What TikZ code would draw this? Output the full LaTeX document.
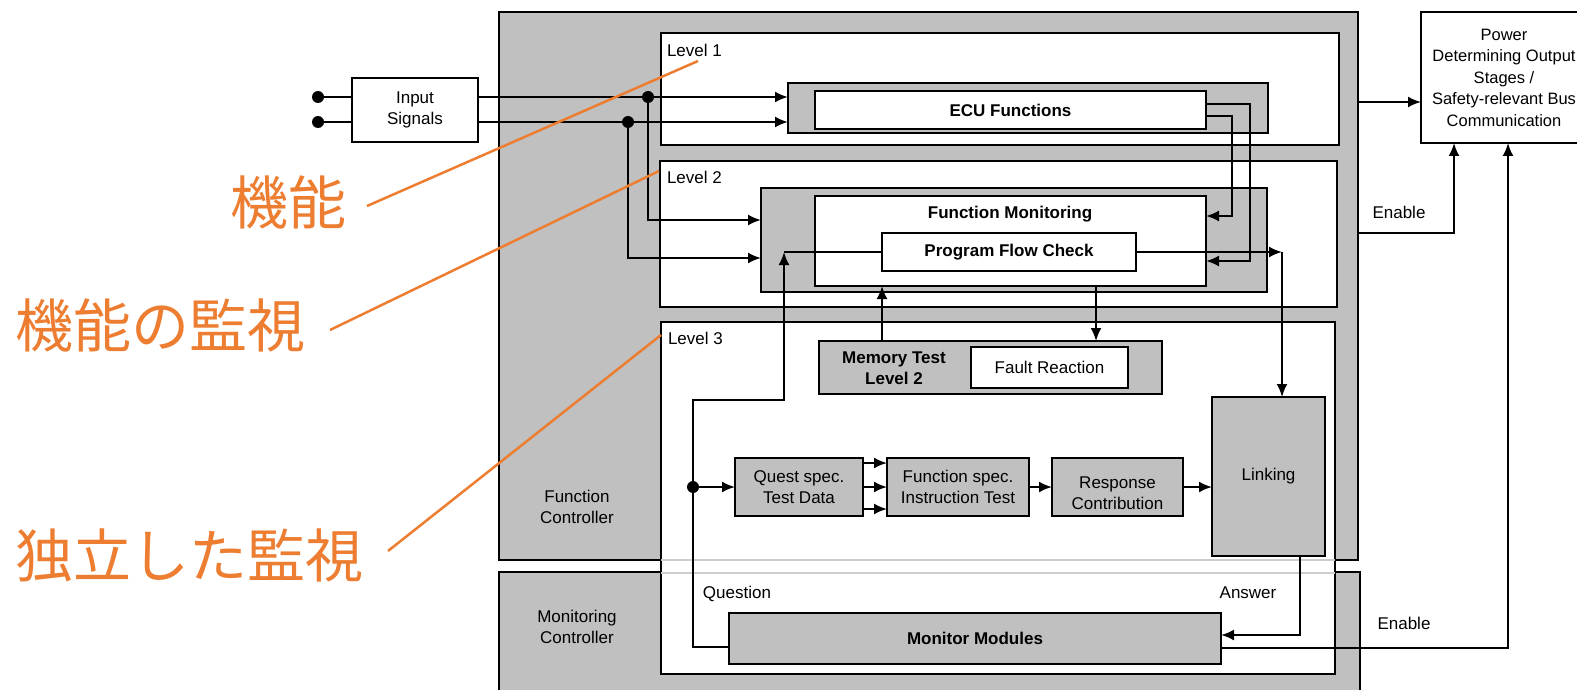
\documentclass[tikz,border=0pt]{standalone}
\usepackage{fontspec}
\setmainfont{Liberation Sans}
\newfontfamily\jpfont{Noto Sans CJK JP}
\usetikzlibrary{arrows.meta}
\definecolor{boxgray}{RGB}{192,192,192}
\definecolor{jorange}{RGB}{237,125,49}
\definecolor{faintline}{RGB}{205,205,205}
\begin{document}
\begin{tikzpicture}[x=1pt,y=-1pt,
  every node/.style={font=\fontsize{17}{21}\selectfont, align=center, inner sep=0pt, outer sep=0pt},
  boldtext/.style={font=\fontsize{17}{21}\selectfont\bfseries},
  gbox/.style={draw=black, fill=boxgray, line width=2pt},
  wbox/.style={draw=black, fill=white, line width=2pt},
  conn/.style={line width=2pt},
  arr/.style={conn, -{Latex[length=13pt,width=11pt]}},
  dotc/.style={circle, fill=black, minimum size=12pt},
  jp/.style={font=\jpfont\fontsize{58}{70}\selectfont, text=jorange},
  callout/.style={draw=jorange, line width=2.5pt}
]
\useasboundingbox (0,0) rectangle (1577,690);

% controllers and levels
\node[gbox, minimum width=859pt, minimum height=548pt] (fc) at (928.5,286) {};
\node[gbox, minimum width=861pt, minimum height=160pt] (mc) at (929.5,652) {};
\node[wbox, minimum width=678pt, minimum height=112pt] (lv1) at (1000,89) {};
\node[wbox, minimum width=677pt, minimum height=146pt] (lv2) at (998.5,234) {};
\node[wbox, minimum width=674pt, minimum height=352pt] (lv3) at (998,498) {};
\draw[faintline, line width=1.5pt] (lv3.west |- 0,560) -- (lv3.east |- 0,560);
\draw[faintline, line width=1.5pt] (lv3.west |- 0,573) -- (lv3.east |- 0,573);

\node[anchor=west] (l1) at (667,50) {Level 1};
\node[anchor=west] (l2) at (667,177) {Level 2};
\node[anchor=west] (l3) at (668,338) {Level 3};
\node (fclab) at (577,507) {Function\\Controller};
\node (mclab) at (577,627) {Monitoring\\Controller};

% input
\node[wbox, minimum width=126pt, minimum height=64pt] (inp) at (415,110) {Input\\Signals};
\node[dotc] (d1) at (318,97) {};
\node[dotc] (d2) at (318,122) {};
\draw[conn] (d1.center) -- (inp.west |- d1.center);
\draw[conn] (d2.center) -- (inp.west |- d2.center);

% level 1
\node[gbox, minimum width=480pt, minimum height=50pt] (ecuo) at (1028,108) {};
\node[wbox, boldtext, minimum width=391pt, minimum height=38pt] (ecu) at (1010.5,110) {ECU Functions};

% level 2
\node[gbox, minimum width=506pt, minimum height=104pt] (fmo) at (1014,240) {};
\node[wbox, minimum width=391pt, minimum height=90pt] (fm) at (1010.5,241) {};
\node[boldtext] (fmlab) at (1010,214) {Function Monitoring};
\node[wbox, boldtext, minimum width=254pt, minimum height=38pt] (pfc) at (1009,252) {Program Flow Check};

% level 3
\node[gbox, minimum width=343pt, minimum height=53pt] (mem) at (990.5,367.5) {};
\node[boldtext] (memlab) at (894,368) {Memory Test\\Level 2};
\node[wbox, minimum width=157pt, minimum height=41pt] (fr) at (1049.5,367.5) {Fault Reaction};
\node[gbox, minimum width=128pt, minimum height=58pt] (qst) at (799,487) {Quest spec.\\Test Data};
\node[gbox, minimum width=142pt, minimum height=58pt] (fsp) at (958,487) {Function spec.\\Instruction Test};
\node[gbox, minimum width=131pt, minimum height=58pt] (rsp) at (1117.5,487) {};
\node (rsplab) at (1117.5,493) {Response\\Contribution};
\node[gbox, minimum width=113pt, minimum height=159pt] (lnk) at (1268.5,476.5) {Linking};
\node[gbox, boldtext, minimum width=492pt, minimum height=51pt] (mm) at (975,638.5) {Monitor Modules};

% output box
\node[wbox, minimum width=166pt, minimum height=131pt, font=\fontsize{16.5}{21.5}\selectfont] (pw) at (1504,77.5) {Power\\Determining Output\\Stages /\\Safety-relevant Bus\\Communication};

% labels
\node (en1) at (1399,212) {Enable};
\node (en2) at (1404,623) {Enable};
\node (qlab) at (737,594) {Question};
\node (alab) at (1248,593) {Answer};

% helper coordinates
\coordinate (j1p) at (648,97);
\coordinate (j2p) at (628,122);
\coordinate (e1) at (1250,104);
\coordinate (e2) at (1232,116);
\coordinate (pk) at (1282,252);
\coordinate (q1) at (693,400);
\coordinate (q2) at (784,400);
\coordinate (jqp) at (693,487);
\coordinate (x882) at (882,0);
\coordinate (x1096) at (1096,0);
\coordinate (x1300) at (1300,0);
\coordinate (x1454) at (1454,0);
\coordinate (x1508) at (1508,0);

% connectors
\draw[arr] (inp.east |- j1p) -- (ecuo.west |- j1p);
\draw[arr] (inp.east |- j2p) -- (ecuo.west |- j2p);
\draw[arr] (j1p) |- (fmo.west |- 0,220);
\draw[arr] (j2p) |- (fmo.west |- 0,258);
\draw[arr] (ecu.east |- e1) -- (e1) |- (fm.east |- 0,261);
\draw[arr] (ecu.east |- e2) -- (e2) |- (fm.east |- 0,216);
\draw[arr] (pfc.east) -- (pk);
\draw[arr] (pk) -- (pk |- lnk.north);
\draw[conn] (pfc.west) -- (q2 |- pfc.west);
\draw[arr] (mm.west |- 0,647) -| (q1) -- (q2) -- (q2 |- pfc.west);
\draw[arr] (jqp) -- (qst.west |- jqp);
\draw[arr] (mem.north -| x882) -- (fm.south -| x882);
\draw[arr] (fm.south -| x1096) -- (mem.north -| x1096);
\foreach \yy in {463,487,509} \draw[arr] (qst.east |- 0,\yy) -- (fsp.west |- 0,\yy);
\draw[arr] (fsp.east) -- (rsp.west);
\draw[arr] (rsp.east) -- (rsp.east -| lnk.west);
\draw[arr] (lnk.south -| x1300) |- (mm.east |- 0,635);
\draw[arr] (mm.east |- 0,648) -| (pw.south -| x1508);
\draw[arr] (fc.east |- 0,102) -- (pw.west |- 0,102);
\draw[arr] (fc.east |- 0,233) -| (pw.south -| x1454);

\node[dotc] (j1) at (j1p) {};
\node[dotc] (j2) at (j2p) {};
\node[dotc] (jq) at (jqp) {};

% callouts
\node[jp] (t1) at (288.5,202) {機能};
\node[jp] (t2) at (160.5,325) {機能の監視};
\node[jp] (t3) at (189.5,555) {独立した監視};
\coordinate (c1a) at (367,206);
\coordinate (c1b) at (698,61);
\coordinate (c2a) at (330,330);
\coordinate (c2b) at (659,171);
\coordinate (c3a) at (388,551);
\coordinate (c3b) at (661,335);
\draw[callout] (c1a) -- (c1b);
\draw[callout] (c2a) -- (c2b);
\draw[callout] (c3a) -- (c3b);
\end{tikzpicture}
\end{document}
